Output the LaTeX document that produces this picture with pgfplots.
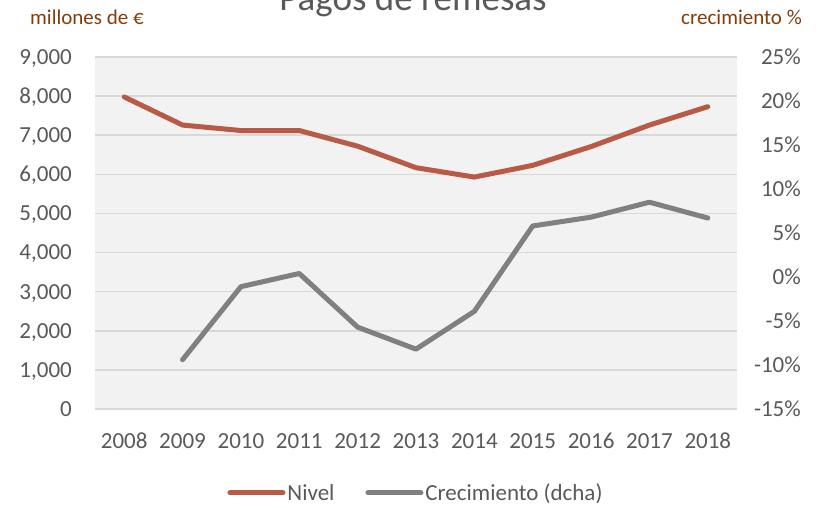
\documentclass[border=0pt]{standalone}
\usepackage{pgfplots}
\pgfplotsset{compat=1.18}
\usepackage{fontspec}
\setmainfont{Carlito}
\definecolor{nivel}{RGB}{185,90,70}
\definecolor{crec}{RGB}{128,128,128}
\definecolor{txt}{RGB}{89,89,89}
\definecolor{lab}{RGB}{132,60,12}
\definecolor{grid}{RGB}{217,217,217}
\definecolor{bg}{RGB}{242,242,242}
\begin{document}
\begin{tikzpicture}
\useasboundingbox (0pt,0pt) rectangle (820pt,507pt);
\clip (0pt,0pt) rectangle (820pt,507pt);
\node[anchor=base, text=txt, font=\fontsize{37}{40}\selectfont, inner sep=0pt] at (413pt,496pt) {Pagos de remesas};
\node[anchor=base west, text=lab, font=\fontsize{21}{24}\selectfont, inner sep=0pt] at (30pt,482pt) {millones de €};
\node[anchor=base east, text=lab, font=\fontsize{21}{24}\selectfont, inner sep=0pt] at (802pt,482pt) {crecimiento \%};
\begin{axis}[
  at={(95pt,98pt)}, anchor=south west,
  scale only axis, width=642pt, height=352pt,
  xmin=-0.5, xmax=10.5, ymin=0, ymax=9000,
  xtick={0,...,10},
  xticklabels={2008,2009,2010,2011,2012,2013,2014,2015,2016,2017,2018},
  ytick={0,1000,...,9000},
  axis line style={draw=none},
  major tick length=0pt,
  ymajorgrids, grid style={draw=grid, line width=1.5pt},
  axis background/.style={fill=bg},
  /pgf/number format/assume math mode=true,
  /pgf/number format/.cd, 1000 sep={,}, /pgfplots/.cd,
  tick label style={text=txt, font=\fontsize{23}{26}\selectfont, inner sep=0pt},
  xticklabel style={anchor=base, yshift=-39pt},
  yticklabel style={anchor=base east, xshift=-23pt, yshift=-7.4pt},
  legend columns=2,
  legend style={at={(0.5,-0.2386)}, anchor=center, draw=none, fill=none,
    font=\fontsize{23}{26}\selectfont, text=txt,
    /tikz/every even column/.append style={column sep=29pt},
    nodes={inner sep=2pt}},
  legend image code/.code={\draw[#1, line cap=round] (0pt,0pt) -- (53pt,0pt);},
]
\addplot[nivel, line width=5pt, line join=round, line cap=round] coordinates {
(0,7980) (1,7260) (2,7120) (3,7120) (4,6720) (5,6170) (6,5930) (7,6230) (8,6710) (9,7260) (10,7730)};
\addlegendentry{Nivel}
\addlegendimage{crec, line width=5pt}
\addlegendentry{Crecimiento (dcha)}
\end{axis}
\begin{axis}[
  at={(95pt,98pt)}, anchor=south west,
  scale only axis, width=642pt, height=352pt,
  xmin=-0.5, xmax=10.5, ymin=-15, ymax=25,
  axis x line=none, axis y line*=right,
  ytick={-15,-10,...,25},
  yticklabel={\pgfmathprintnumber{\tick}\%},
  axis line style={draw=none},
  major tick length=0pt,
  /pgf/number format/assume math mode=true,
  tick label style={text=txt, font=\fontsize{23}{26}\selectfont, inner sep=0pt},
  yticklabel style={anchor=base east, xshift=64pt, yshift=-7.4pt},
]
\addplot[crec, line width=5pt, line join=round, line cap=round] coordinates {
(1,-9.4) (2,-1.1) (3,0.4) (4,-5.7) (5,-8.2) (6,-3.9) (7,5.8) (8,6.8) (9,8.5) (10,6.7)};
\end{axis}
\end{tikzpicture}
\end{document}
